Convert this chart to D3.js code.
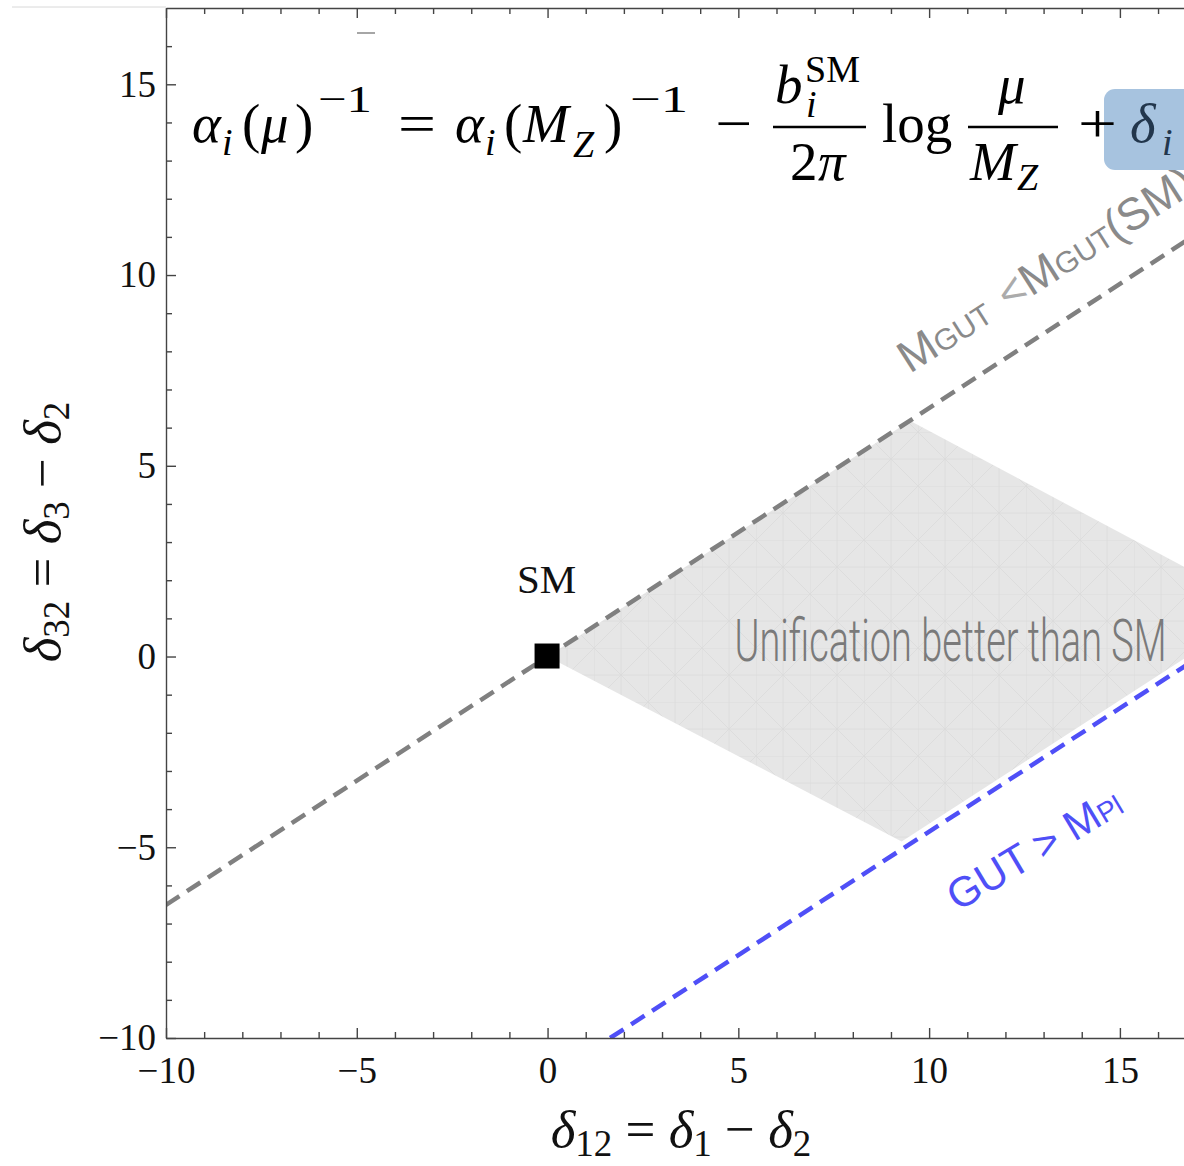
<!DOCTYPE html>
<html>
<head>
<meta charset="utf-8">
<script src="https://cdn.jsdelivr.net/npm/d3@7"></script>
<style>
  body { margin: 0; background: #fff; }
  svg { display: block; }
  text { white-space: pre; }
</style>
</head>
<body>
<div id="chart"></div>
<script>
// tick values
const xTicks = [-10, -5, 0, 5, 10, 15];
const yTicks = [-10, -5, 0, 5, 10, 15];
const xMinor = [-9, -8, -7, -6, -4, -3, -2, -1, 1, 2, 3, 4, 6, 7, 8, 9, 11, 12, 13, 14, 16];
const yMinor = [-9, -8, -7, -6, -4, -3, -2, -1, 1, 2, 3, 4, 6, 7, 8, 9, 11, 12, 13, 14, 16];

// marks, in (delta12, delta32)
const smPoint = [0, 0];
const grayLine = [[-10, -6.51], [17, 11.07]];      // M_GUT < M_GUT(SM)
const blueLine = [[1.64, -10], [17, -0.06]];       // GUT > M_Pl
const betterRegion = [[0, 0], [9.5, 6.18], [17, 2.18], [17, 0.15], [9.28, -4.85]];

const W = 1184, H = 1166;

const svg = d3.select("#chart")
    .append("svg")
    .attr("width", W)
    .attr("height", H);

const x = d3.scaleLinear().domain([-10, 16.68]).range([166, 1184]);
const y = d3.scaleLinear().domain([-10, 17]).range([1038, 8]);

const defs = svg.append("defs");
defs.append("clipPath").attr("id", "plot")
    .append("rect")
    .attr("x", x(-10)).attr("y", y(17))
    .attr("width", x(16.68) - x(-10)).attr("height", y(-10) - y(17));

// faint mesh like the original rendering
const pat = defs.append("pattern")
    .attr("id", "mesh")
    .attr("patternUnits", "userSpaceOnUse")
    .attr("width", 54).attr("height", 54);
pat.append("rect").attr("width", 54).attr("height", 54).attr("fill", "#e6e6e6");
pat.append("path")
    .attr("d", "M0,0H54M0,27H54M0,0V54M27,0V54M0,0L54,54M54,0L0,54")
    .attr("stroke", "#dadada")
    .attr("stroke-width", 0.8)
    .attr("fill", "none");

// faint border line at the very top left (screenshot edge)
svg.append("line")
    .attr("x1", 12).attr("x2", x(-10))
    .attr("y1", 7).attr("y2", 7)
    .attr("stroke", "#d8d8d8").attr("stroke-width", 1);

const plot = svg.append("g").attr("clip-path", "url(#plot)");

const line = d3.line()
    .x(d => x(d[0]))
    .y(d => y(d[1]));

plot.append("path")
    .attr("d", line(betterRegion) + "Z")
    .attr("fill", "url(#mesh)");

plot.append("path")
    .attr("d", line(grayLine))
    .attr("fill", "none")
    .attr("stroke", "#808080")
    .attr("stroke-width", 4.5)
    .attr("stroke-dasharray", "16,9");

plot.append("path")
    .attr("d", line(blueLine))
    .attr("fill", "none")
    .attr("stroke", "#4f4ff7")
    .attr("stroke-width", 4.5)
    .attr("stroke-dasharray", "16,9");

// SM point
plot.append("rect")
    .attr("x", x(smPoint[0]) - 13)
    .attr("y", y(smPoint[1]) - 13)
    .attr("width", 25)
    .attr("height", 25)
    .attr("fill", "#000");

// axes, ticks inside
function styleAxis(g) {
    g.selectAll("path, line").attr("stroke", "#444").attr("stroke-width", 1.4);
    g.selectAll("text")
        .attr("font-family", "Liberation Serif, Times New Roman, serif")
        .attr("font-size", 37)
        .attr("fill", "#111");
}

svg.append("g")
    .attr("transform", `translate(0,${y(-10)})`)
    .call(d3.axisBottom(x).tickValues(xTicks).tickSize(-10).tickSizeOuter(0).tickPadding(19))
    .call(styleAxis);
svg.append("g")
    .attr("transform", `translate(0,${y(-10)})`)
    .call(d3.axisBottom(x).tickValues(xMinor).tickSize(-6).tickFormat(""))
    .call(g => g.select(".domain").remove())
    .call(styleAxis);

svg.append("g")
    .attr("transform", `translate(0,${y(17)})`)
    .call(d3.axisTop(x).tickValues(xTicks).tickSize(-10).tickSizeOuter(0).tickFormat(""))
    .call(styleAxis);
svg.append("g")
    .attr("transform", `translate(0,${y(17)})`)
    .call(d3.axisTop(x).tickValues(xMinor).tickSize(-6).tickFormat(""))
    .call(g => g.select(".domain").remove())
    .call(styleAxis);

svg.append("g")
    .attr("transform", `translate(${x(-10)},0)`)
    .call(d3.axisLeft(y).tickValues(yTicks).tickSize(-10).tickSizeOuter(0).tickPadding(10))
    .call(styleAxis);
svg.append("g")
    .attr("transform", `translate(${x(-10)},0)`)
    .call(d3.axisLeft(y).tickValues(yMinor).tickSize(-6).tickFormat(""))
    .call(g => g.select(".domain").remove())
    .call(styleAxis);

const serif = "Liberation Serif, Times New Roman, serif";
const sans = "Liberation Sans, Arial, sans-serif";

// axis titles
const xt = svg.append("text")
    .attr("x", 681).attr("y", 1147)
    .attr("text-anchor", "middle")
    .attr("font-family", serif)
    .attr("font-size", 53)
    .attr("fill", "#111");
const yt = svg.append("text")
    .attr("transform", "translate(60,532) rotate(-90)")
    .attr("text-anchor", "middle")
    .attr("font-family", serif)
    .attr("font-size", 53)
    .attr("fill", "#111");

function deltaDiff(t, a, b, c) {
    t.append("tspan").attr("font-style", "italic").text("δ");
    t.append("tspan").attr("font-size", 37).attr("dy", 9).text(a);
    t.append("tspan").attr("dy", -9).text(" = ");
    t.append("tspan").attr("font-style", "italic").text("δ");
    t.append("tspan").attr("font-size", 37).attr("dy", 9).text(b);
    t.append("tspan").attr("dy", -9).text(" − ");
    t.append("tspan").attr("font-style", "italic").text("δ");
    t.append("tspan").attr("font-size", 37).attr("dy", 9).text(c);
}
deltaDiff(xt, "12", "1", "2");
deltaDiff(yt, "32", "3", "2");

// labels
svg.append("text")
    .attr("x", x(smPoint[0]) - 1)
    .attr("y", y(smPoint[1]) - 64)
    .attr("text-anchor", "middle")
    .attr("font-family", serif)
    .attr("font-size", 41)
    .attr("fill", "#111")
    .text("SM");

svg.append("text")
    .attr("x", x(4.9))
    .attr("y", y(-0.13))
    .attr("font-family", "Roboto, DejaVu Sans Condensed, sans-serif")
    .attr("font-weight", 300)
    .attr("font-size", 59)
    .attr("textLength", 432)
    .attr("lengthAdjust", "spacingAndGlyphs")
    .attr("fill", "#7a7a7a")
    .text("Unification better than SM");

const gl = svg.append("text")
    .attr("transform", `translate(${x(9.18) + 12},${y(7.64) + 9}) rotate(-32.5)`)
    .attr("font-family", sans)
    .attr("font-size", 45)
    .attr("fill", "#8a8a8a");
gl.append("tspan").text("M");
gl.append("tspan").attr("font-size", 30).text("GUT");
gl.append("tspan").attr("fill", "#ababab").attr("dx", 4).text(" <");
gl.append("tspan").text("M");
gl.append("tspan").attr("font-size", 30).text("GUT");
gl.append("tspan").text("(SM)");

const bl = svg.append("text")
    .attr("transform", `translate(${x(10.62) + 5},${y(-6.46) + 9}) rotate(-31)`)
    .attr("font-family", sans)
    .attr("font-size", 42)
    .attr("fill", "#4f4ff7");
bl.append("tspan").text("GUT > M");
bl.append("tspan").attr("font-size", 28).text("Pl");

// formula
const eq = svg.append("g").attr("font-family", serif).attr("fill", "#000");
function put(px, py, s, size, it) {
    return eq.append("text")
        .attr("x", px).attr("y", py)
        .attr("font-size", size)
        .attr("font-style", it ? "italic" : null)
        .text(s);
}
put(192, 142, "α", 55, true);
put(222, 155, "i", 38, true);
put(242, 142, "(", 55);
put(261, 142, "μ", 55, true);
put(295, 142, ")", 55);
put(318, 112, "−1", 38).attr("textLength", 54).attr("lengthAdjust", "spacingAndGlyphs");
put(398, 142, "=", 55).attr("textLength", 38).attr("lengthAdjust", "spacingAndGlyphs");
put(455, 142, "α", 55, true);
put(485, 155, "i", 38, true);
put(504, 142, "(", 55);
put(523, 142, "M", 55, true);
put(573, 157, "Z", 38, true);
put(604, 142, ")", 55);
put(630, 112, "−1", 38).attr("textLength", 58).attr("lengthAdjust", "spacingAndGlyphs");
put(715, 142, "−", 55).attr("textLength", 37).attr("lengthAdjust", "spacingAndGlyphs");
put(775, 103, "b", 55, true);
put(805, 82, "SM", 38);
put(806, 117, "i", 38, true);
put(790, 180, "2", 55);
put(818, 180, "π", 55, true);
put(882, 142, "log", 55);
put(998, 103, "μ", 55, true);
put(970, 180, "M", 55, true);
put(1017, 190, "Z", 38, true);
eq.append("line").attr("x1", 773).attr("x2", 866).attr("y1", 127).attr("y2", 127)
    .attr("stroke", "#000").attr("stroke-width", 2.6);
eq.append("line").attr("x1", 968).attr("x2", 1058).attr("y1", 127).attr("y2", 127)
    .attr("stroke", "#000").attr("stroke-width", 2.6);

eq.append("rect")
    .attr("x", 1104).attr("y", 89)
    .attr("width", 120).attr("height", 81)
    .attr("rx", 11)
    .attr("fill", "#a7c3df");
put(1078, 142, "+", 55).attr("textLength", 39).attr("lengthAdjust", "spacingAndGlyphs");
put(1130, 142, "δ", 55, true).attr("fill", "#22364c");
put(1162, 155, "i", 38, true).attr("fill", "#22364c");

// stray mark above the formula
svg.append("line")
    .attr("x1", 357).attr("x2", 375)
    .attr("y1", 33).attr("y2", 33)
    .attr("stroke", "#888").attr("stroke-width", 1.5);
</script>
</body>
</html>
